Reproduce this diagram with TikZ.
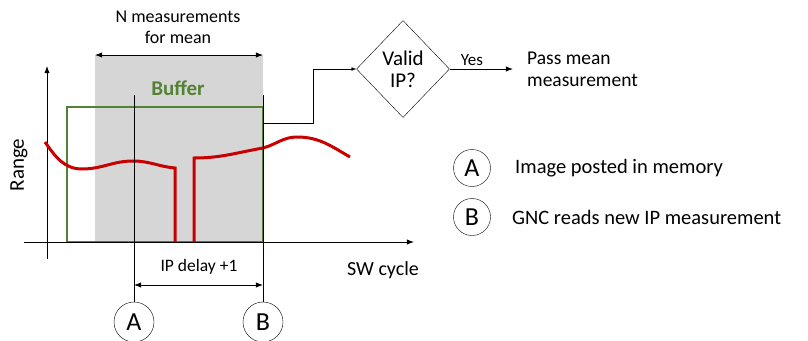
\documentclass[tikz,border=0pt]{standalone}
\usepackage{fontspec}
\setmainfont{Carlito}
\usetikzlibrary{arrows.meta,positioning,shapes.geometric}
\definecolor{bufgreen}{RGB}{84,130,53}
\definecolor{wingray}{RGB}{214,214,214}
\definecolor{curvered}{RGB}{200,0,0}
\begin{document}
\begin{tikzpicture}[x=1pt,y=-1pt,>=Latex,
 lbl/.style={font=\fontsize{18}{21}\selectfont,align=center,inner sep=1pt},
 legtxt/.style={font=\fontsize{20.5}{23}\selectfont,anchor=west,inner sep=0pt},
 evmark/.style={draw,circle,minimum size=40pt,inner sep=0pt,font=\fontsize{26}{28}\selectfont},
 legmark/.style={draw,circle,minimum size=37pt,inner sep=0pt,font=\fontsize{26}{28}\selectfont},
 curve/.style={draw=curvered,line width=3pt},
 axis/.style={->,line width=0.9pt}]
\useasboundingbox (0,0) rectangle (808,340);
% window and buffer
\fill[wingray] (95,55) rectangle (263,242);
\draw[bufgreen,line width=1.4pt] (67,107) rectangle (263,242);
\node[text=bufgreen,font=\fontsize{21}{23}\selectfont\bfseries] (buf) at (178,88) {Buffer};
% axes
\coordinate (y0) at (47,259);
\coordinate (y1) at (47,66);
\coordinate (x0) at (24,242);
\coordinate (x1) at (414,242);
\draw[axis] (y0) -- (y1);
\draw[axis] (x0) -- (x1);
\node[lbl,rotate=90,font=\fontsize{21}{23}\selectfont] (range) at (19,165) {Range};
\node[lbl,font=\fontsize{20}{22}\selectfont] (cyc) at (383,270) {SW cycle};
% N measurements
\node[lbl] (nmeas) at (178,27) {N measurements\\for mean};
\coordinate (n0) at (95,55);
\coordinate (n1) at (263,55);
\draw[<->,line width=0.9pt] (n0) -- (n1);
% measured range
\draw[curve] (45,142) to[out=-55,in=180] (82,169) to[out=0,in=180] (133,161)
 to[out=0,in=175] (175,168) -- (175,242);
\draw[curve] (194,242) -- (194,158) to[out=0,in=190] (263,148)
 to[out=15,in=180] (297,137) to[out=0,in=150] (350,157);
% events A and B
\node[evmark] (A) at (134,322) {A};
\node[evmark] (B) at (263,322) {B};
\coordinate (ta) at (134,95);
\coordinate (tb) at (263,95);
\draw (ta) -- (A);
\draw (tb) -- (B);
\node[lbl,font=\fontsize{17.5}{20}\selectfont] (delay) at (199,267) {IP delay +1};
\draw[<->,line width=0.9pt] (A |- 0,285) -- (B |- 0,285);
% decision
\node[draw,diamond,minimum width=93pt,minimum height=97pt,inner sep=0pt,
 lbl,font=\fontsize{21}{22}\selectfont] (valid) at (403,69) {Valid\\IP?};
\coordinate (out) at (263,123);
\draw[->] (out) -| (313,69) -- (valid.west);
\node[lbl,font=\fontsize{19.5}{22}\selectfont,align=left,anchor=west,inner sep=0pt] (pass) at (527,69)
 {Pass mean\\measurement};
\draw[->,line width=0.9pt] (valid.east) -- node[pos=0.35,above,font=\fontsize{17}{19}\selectfont] {Yes} (513,69);
% legend
\node[legmark] (legA) at (472,168) {A};
\node[legtxt] (txtA) at (515,168) {Image posted in memory};
\node[legmark] (legB) at (472,217) {B};
\node[legtxt] (txtB) at (512,217) {GNC reads new IP measurement};
\end{tikzpicture}
\end{document}
